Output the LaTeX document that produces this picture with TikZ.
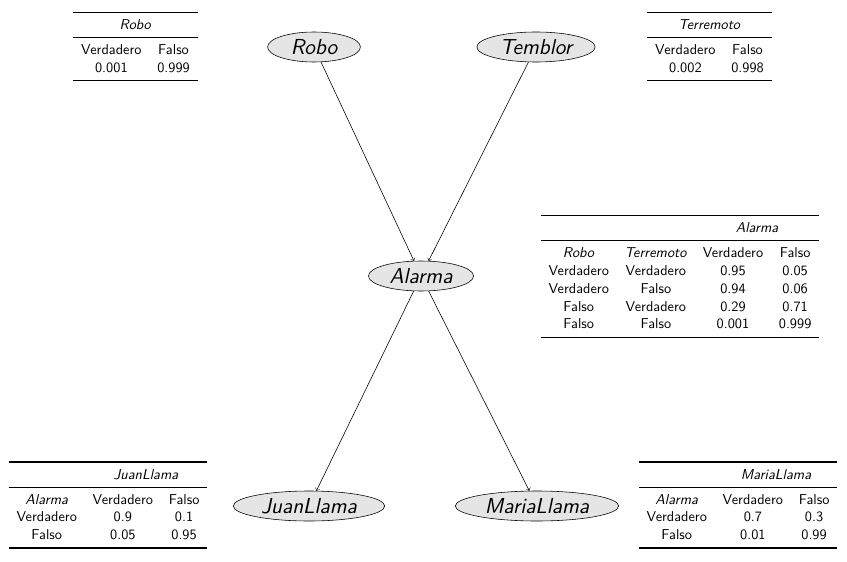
\documentclass[tikz,border=0pt]{standalone}
\usepackage{fontspec}
\usepackage{booktabs}
\renewcommand{\familydefault}{\sfdefault}
\setlength{\tabcolsep}{5.5pt}
\renewcommand{\arraystretch}{1.04}
\usetikzlibrary{shapes.geometric}

\begin{document}
\begin{tikzpicture}[x=0.7pt, y=-0.7pt, thin,
  var/.style = {draw, ellipse, fill=gray!20, font=\fontsize{15.2}{18}\selectfont\itshape, inner xsep=4pt, inner ysep=0pt, minimum height=21pt, minimum width=65pt},
  cpt/.style = {inner sep=0pt}]
\useasboundingbox (0,0) rectangle (847,561);
% variables
\node[var] (R) at (314,47) {Robo};
\node[var] (T) at (536,47) {Temblor};
\node[var] (A) at (421,276) {Alarma};
\node[var] (J) at (309,506) {JuanLlama};
\node[var] (M) at (537,506) {MariaLlama};
\draw[->] (R) -- (A);
\draw[->] (T) -- (A);
\draw[->] (A) -- (J);
\draw[->] (A) -- (M);
% tablas
\node[cpt] (tR) at (135.5,46.5) {\begin{tabular}{cc}
\toprule
\multicolumn{2}{c}{\textit{Robo}}\\
\midrule
Verdadero & Falso\\
0.001 & 0.999\\
\bottomrule
\end{tabular}};
\node[cpt] (tT) at (709.5,46.5) {\begin{tabular}{cc}
\toprule
\multicolumn{2}{c}{\textit{Terremoto}}\\
\midrule
Verdadero & Falso\\
0.002 & 0.998\\
\bottomrule
\end{tabular}};
\node[cpt] (tA) at (680,276.5) {\begin{tabular}{cccc}
\toprule
 & & \multicolumn{2}{c}{\textit{Alarma}}\\
\midrule
\textit{Robo} & \textit{Terremoto} & Verdadero & Falso\\
Verdadero & Verdadero & 0.95 & 0.05\\
Verdadero & Falso & 0.94 & 0.06\\
Falso & Verdadero & 0.29 & 0.71\\
Falso & Falso & 0.001 & 0.999\\
\bottomrule
\end{tabular}};
\node[cpt] (tJ) at (108,505) {\begin{tabular}{ccc}
\toprule
 & \multicolumn{2}{c}{\textit{JuanLlama}}\\
\midrule
\textit{Alarma} & Verdadero & Falso\\
Verdadero & 0.9 & 0.1\\
Falso & 0.05 & 0.95\\
\bottomrule
\end{tabular}};
\node[cpt] (tM) at (738,505) {\begin{tabular}{ccc}
\toprule
 & \multicolumn{2}{c}{\textit{MariaLlama}}\\
\midrule
\textit{Alarma} & Verdadero & Falso\\
Verdadero & 0.7 & 0.3\\
Falso & 0.01 & 0.99\\
\bottomrule
\end{tabular}};
\end{tikzpicture}
\end{document}
